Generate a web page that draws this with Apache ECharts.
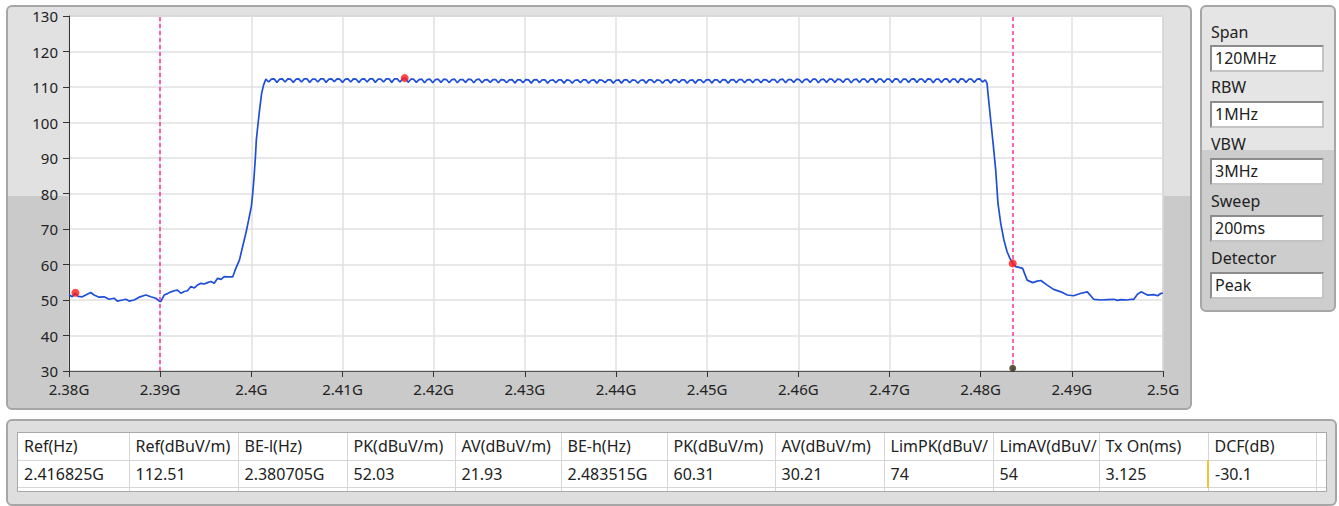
<!DOCTYPE html>
<html>
<head>
<meta charset="utf-8">
<script src="https://cdn.jsdelivr.net/npm/echarts@6/dist/echarts.min.js"></script>
<style>
body { margin:0; width:1339px; height:506px; position:relative; overflow:hidden; background:#fff; font-family:"Noto Sans", sans-serif; color:#222; }
.panel { position:absolute; box-sizing:border-box; border:2px solid #a6a6a6; border-radius:6px; }
#plotPanel { left:6px; top:5px; width:1186px; height:405px; background:linear-gradient(to bottom, #e1e1e1 0, #e1e1e1 189px, #cacaca 189px); }
#setupPanel { left:1200px; top:5px; width:136px; height:307px; background:linear-gradient(to bottom, #e5e5e5 0, #e5e5e5 143px, #cdcdcd 143px); }
#tablePanel { left:6px; top:419px; width:1331px; height:87px; background:#dedede; }
.lbl { position:absolute; left:1211px; font-size:16px; line-height:20px; }
.box { position:absolute; left:1210px; width:114px; height:27px; box-sizing:border-box; background:#fff; border:2px solid; border-color:#8c8c8c #c4c4c4 #c4c4c4 #8c8c8c; font-size:16px; line-height:23px; padding-left:3px; }
#tableWrap { position:absolute; left:17px; top:432px; width:1310px; height:60px; overflow:hidden; background:#fff; border:1px solid #a8a8a8; box-sizing:border-box; }
#tableWrap table { width:1310px; border-collapse:collapse; table-layout:fixed; font-size:16px; }
#tableWrap td { height:27px; padding:0 0 0 6px; border-right:1px solid #d6d6d6; border-bottom:1px solid #d6d6d6; white-space:nowrap; overflow:hidden; box-sizing:border-box; }
#tableWrap td.cur { border-left:2px solid #f2c23a; }
#chart { position:absolute; left:0; top:0; width:1339px; height:506px; }
</style>
</head>
<body>
<div class="panel" id="plotPanel"></div>
<div class="panel" id="setupPanel"></div>
<div class="panel" id="tablePanel"></div>
<div id="tableWrap"></div>
<div id="chart"></div>
<script>
// sweep start, all trace offsets are in MHz from here
var startGHz = 2.38;

// lower band edge: noise floor and rising skirt
var lowMHz = [0.0, 0.36, 0.7, 1.0, 1.46, 1.84, 2.38, 2.75, 3.3, 3.85, 4.4, 4.95, 5.3, 5.86, 6.23, 6.6, 7.14, 7.7, 8.43, 8.98, 9.53, 9.9, 10.08,
  10.44, 10.8, 11.2, 11.54, 11.9, 12.27, 12.64, 13.0, 13.37, 13.74, 14.1, 14.47, 14.84, 15.2, 15.57, 15.93, 16.3, 16.67, 17.03, 17.4, 17.95,
  18.3, 18.7, 19.04, 19.4, 19.7, 20.0, 20.15, 20.3, 20.45, 20.55, 20.7, 20.9, 21.13, 21.35, 21.6];
var lowDb = [51.5, 50.9, 52.0, 51.0, 50.9, 51.4, 52.1, 51.4, 50.8, 50.9, 50.2, 50.5, 49.7, 50.0, 50.2, 49.7, 50.0, 50.8, 51.4, 50.9, 50.5, 49.7, 49.6,
  51.4, 51.8, 52.3, 52.6, 52.8, 51.9, 52.4, 52.6, 53.8, 53.4, 54.2, 54.7, 54.5, 54.9, 55.2, 54.7, 56.1, 55.8, 56.6, 56.5, 56.5,
  58.9, 61.3, 65.0, 68.8, 72.5, 76.3, 80.0, 84.7, 90.4, 95.1, 98.8, 103.5, 108.2, 110.6, 112.2];

// in-band ripple, sampled every 0.3 MHz from 21.9 MHz
var bandStartMHz = 21.9;
var bandStepMHz = 0.3;
var bandDb = [
  111.4,112.2,112.3, 111.3,112.2,112.3, 111.4,112.3,112.2, 111.3,112.2,112.3, 111.4,112.3,112.3, 111.3,112.2,112.2, 111.4,112.3,112.3, 111.3,112.2,112.3, 111.5,112.3,112.2, 111.3,112.2,112.3,
  111.4,112.3,112.2, 111.3,112.2,112.3, 111.4,112.3,112.3, 111.3,112.2,112.2, 111.4,112.3,112.3, 111.3,112.3,112.3, 111.4,112.3,112.5, 111.3,112.2,112.2, 111.3,112.1,112.2, 111.2,112.1,112.2,
  111.2,112.1,112.2, 111.3,112.2,112.1, 111.2,112.1,112.2, 111.2,112.1,112.1, 111.3,112.2,112.1, 111.2,112.1,112.2, 111.2,112.0,112.1, 111.3,112.1,112.1, 111.2,112.1,112.0, 111.2,112.0,112.1,
  111.1,112.0,112.0, 111.2,112.1,112.0, 111.1,112.0,112.1, 111.2,112.0,112.0, 111.1,111.9,112.0, 111.2,112.0,112.0, 111.1,112.0,111.9, 111.1,111.9,112.0, 111.2,112.0,112.0, 111.1,111.9,112.0,
  111.1,112.0,111.9, 111.2,112.0,112.0, 111.1,111.9,112.0, 111.1,112.0,112.0, 111.2,112.0,111.9, 111.1,111.9,112.0, 111.1,112.0,112.0, 111.2,112.0,111.9, 111.1,111.9,112.0, 111.1,112.0,112.0,
  111.2,112.0,112.0, 111.1,111.9,112.0, 111.1,112.0,112.0, 111.2,112.0,112.1, 111.1,112.0,112.0, 111.2,112.1,112.0, 111.1,112.0,112.1, 111.2,112.1,112.1, 111.2,112.0,112.1, 111.2,112.1,112.1,
  111.2,112.1,112.0, 111.3,112.1,112.1, 111.2,112.1,112.2, 111.2,112.1,112.1, 111.3,112.2,112.1, 111.2,112.1,112.2, 111.3,112.2,112.2, 111.2,112.1,112.2, 111.3,112.2,112.2, 111.3,112.2,112.1,
  111.3,112.2,112.2, 111.2,112.1,112.2, 111.3,112.2,112.2, 111.3,112.2,112.3, 111.2,112.2,112.2, 111.3,112.2,112.2, 111.3,112.3,112.2, 111.2,112.2,112.2, 111.3,112.2,112.3, 111.3,112.2,112.2,
  111.3,112.3,112.2, 111.2,112.2,112.2, 111.3,112.2,112.3, 111.3,112.2,112.2, 111.2,112.3,112.2, 111.3,112.2,112.2, 111.3,112.2,112.3, 111.4,112.0
];

// upper band edge: falling skirt and noise floor
var highMHz = [100.7, 100.8, 101.1, 101.4, 101.65, 101.9, 102.2, 102.55, 102.9, 103.2, 103.5, 103.85, 104.2, 104.6, 105.1, 105.7, 106.2, 106.6,
  107.3, 108.0, 108.8, 109.5, 110.2, 111.0, 111.7, 112.4, 113.2, 113.9, 114.6, 115.0, 115.4, 116.1, 116.5, 116.8, 117.2, 117.6, 118.3, 119.0, 119.4, 119.8, 120.0];
var highDb = [111.0, 108.2, 100.7, 93.2, 86.6, 77.2, 71.6, 66.9, 63.6, 61.8, 60.4, 59.4, 59.2, 58.9, 55.6, 54.9, 55.3, 55.5,
  54.2, 53.0, 52.3, 51.4, 51.2, 51.9, 52.3, 50.2, 50.0, 50.1, 50.2, 49.9, 50.1, 50.0, 50.2, 50.2, 51.6, 52.3, 51.4, 51.5, 51.2, 51.9, 51.9];

// red markers (GHz, dBuV/m), cursor lines and cursor foot
var peakMarks = [[2.380705, 52.03], [2.416825, 112.51], [2.483515, 60.31]];
var cursorGHz = [2.39, 2.483515];
var footMarks = [[2.483515, 30.8]];

// side panel and result table (the two limit headers are cut short in the original)
var setupNames = ['Span', 'RBW', 'VBW', 'Sweep', 'Detector'];
var setupValues = ['120MHz', '1MHz', '3MHz', '200ms', 'Peak'];
var tableHeads = ['Ref(Hz)', 'Ref(dBuV/m)', 'BE-l(Hz)', 'PK(dBuV/m)', 'AV(dBuV/m)', 'BE-h(Hz)', 'PK(dBuV/m)', 'AV(dBuV/m)', 'LimPK(dBuV/', 'LimAV(dBuV/', 'Tx On(ms)', 'DCF(dB)'];
var tableRow = ['2.416825G', '112.51', '2.380705G', '52.03', '21.93', '2.483515G', '60.31', '30.21', '74', '54', '3.125', '-30.1'];

// side panel
var labelTops = [22, 77, 134, 191, 248];
var boxTops = [45, 101, 158, 215, 272];
var html = '';
for (var i = 0; i < setupNames.length; i++) {
  html += '<div class="lbl" style="top:' + labelTops[i] + 'px">' + setupNames[i] + '</div>';
  html += '<div class="box" style="top:' + boxTops[i] + 'px">' + setupValues[i] + '</div>';
}
document.body.insertAdjacentHTML('beforeend', html);

// table
var colW = [111, 109, 109, 108, 106, 106, 108, 109, 109, 106, 109, 108, 12];
var t = '<table><colgroup>';
colW.forEach(function(w){ t += '<col style="width:' + w + 'px">'; });
t += '</colgroup><tr>';
tableHeads.forEach(function(h){ t += '<td>' + h + '</td>'; });
t += '<td></td></tr><tr>';
tableRow.forEach(function(v, i){ t += '<td' + (i == 11 ? ' class="cur"' : '') + '>' + v + '</td>'; });
t += '<td></td></tr><tr>';
colW.forEach(function(){ t += '<td></td>'; });
t += '</tr></table>';
document.getElementById('tableWrap').innerHTML = t;

// trace
var trace = [];
lowMHz.forEach(function(m, i){ trace.push([startGHz + m / 1000, lowDb[i]]); });
bandDb.forEach(function(v, i){ trace.push([startGHz + (bandStartMHz + i * bandStepMHz) / 1000, v]); });
highMHz.forEach(function(m, i){ trace.push([startGHz + m / 1000, highDb[i]]); });

var chart = echarts.init(document.getElementById('chart'), null, { renderer: 'svg' });
var option = {
  animation: false,
  grid: {
    left: 69, right: 176, top: 16, bottom: 135,
    show: true, backgroundColor: '#fff', borderColor: '#9a9a9a', borderWidth: 1
  },
  xAxis: {
    type: 'value', min: 2.38, max: 2.5, interval: 0.01,
    axisLine: { show: true, onZero: false, lineStyle: { color: '#555', width: 1 } },
    axisTick: { show: true, length: 6, lineStyle: { color: '#333' } },
    axisLabel: {
      margin: 10, color: '#222', fontSize: 15, fontFamily: 'Noto Sans',
      formatter: function(v){ return +v.toFixed(3) + 'G'; }
    },
    splitLine: { show: true, lineStyle: { color: '#e0e0e0', width: 1.5 } }
  },
  yAxis: {
    type: 'value', min: 30, max: 130, interval: 10,
    axisLine: { show: true, onZero: false, lineStyle: { color: '#333', width: 1 } },
    axisTick: { show: true, length: 6, lineStyle: { color: '#333' } },
    axisLabel: { margin: 11, color: '#222', fontSize: 15, fontFamily: 'Noto Sans' },
    splitLine: { show: true, lineStyle: { color: '#e0e0e0', width: 1.5 } }
  },
  series: [
    {
      type: 'line', data: trace, showSymbol: false,
      lineStyle: { color: '#1f4fd8', width: 1.7 },
      markLine: {
        silent: true, symbol: 'none', precision: 6, label: { show: false },
        lineStyle: { color: '#ff3399', type: [4, 3], width: 1.5 },
        data: cursorGHz.map(function(g){ return { xAxis: g }; })
      }
    },
    {
      type: 'scatter', data: peakMarks, symbolSize: 8, z: 5,
      itemStyle: { color: '#ff1a1a' }
    },
    {
      type: 'scatter', data: footMarks, symbolSize: 7, z: 5,
      itemStyle: { color: '#34341a' }
    }
  ]
};
chart.setOption(option);
</script>
</body>
</html>
